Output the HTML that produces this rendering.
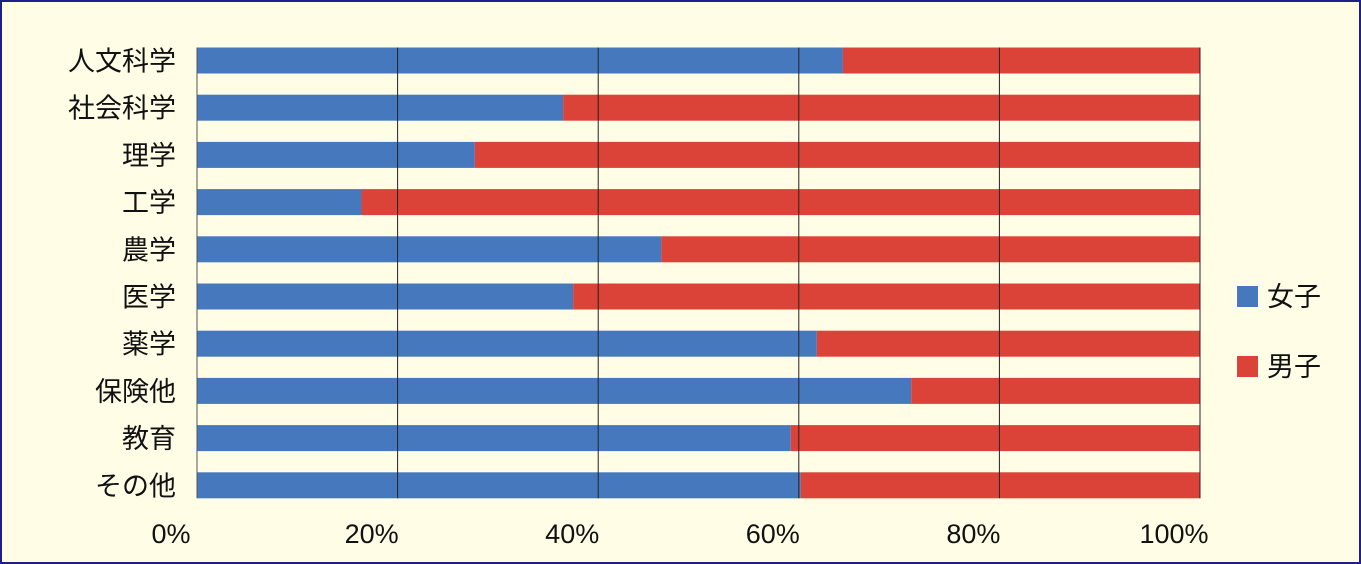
<!DOCTYPE html>
<html><head><meta charset="utf-8"><style>
html,body{margin:0;padding:0;background:#fffde6;}
svg{display:block;}
text{font-family:"Liberation Sans","Noto Sans CJK JP",sans-serif;fill:#111;}
</style></head><body>
<svg id="chart" width="1361" height="564" viewBox="0 0 1361 564">
<rect x="1" y="1" width="1359" height="562" fill="#fffde6" stroke="#1f1f88" stroke-width="2"/>
<g id="plot"></g>
<g>
<rect x="1237" y="286" width="21" height="21" fill="#4678bd"/>
<text x="1267" y="306" font-size="27">女子</text>
<rect x="1237" y="356" width="21" height="21" fill="#dc4338"/>
<text x="1267" y="376" font-size="27">男子</text>
</g>
</svg>
<script>
const categories=["人文科学","社会科学","理学","工学","農学","医学","薬学","保険他","教育","その他"];
const femalePct=[64.4,36.5,27.7,16.4,46.3,37.5,61.8,71.2,59.2,60.2];
const ticks=[0,20,40,60,80,100];
const tickLabels=["0%","20%","40%","60%","80%","100%"];
const NS="http://www.w3.org/2000/svg";
const g=document.getElementById('plot');
const x0=197,x1=1200,yTop=47.5,step=47.2,bh=26;
const xs=v=>x0+(x1-x0)*v/100;
const yc=i=>yTop+step*i+bh/2;
function mk(t,a){const e=document.createElementNS(NS,t);for(const k in a)e.setAttribute(k,a[k]);g.appendChild(e);return e;}
categories.forEach((c,i)=>{
 const y=yc(i)-bh/2;
 const f=mk('rect',{x:xs(0),y:y,width:xs(femalePct[i])-xs(0),height:bh,fill:'#4678bd'});
 
 
 const m=mk('rect',{x:xs(femalePct[i]),y:y,width:xs(100)-xs(femalePct[i]),height:bh,fill:'#dc4338'});
 
 
 const t=mk('text',{x:176,y:yc(i)+10,'text-anchor':'end','font-size':27});
 t.textContent=c;
 
 
});
ticks.forEach((v,i)=>{
 const l=mk('line',{x1:xs(v),x2:xs(v),y1:yTop,y2:yc(categories.length-1)+bh/2,stroke:i==0?'#555':'#222','stroke-width':1});
 
 
 const t=mk('text',{x:xs(v)-26,y:543,'text-anchor':'middle','font-size':27});
 t.textContent=tickLabels[i];
 
 
});
</script>
</body></html>
